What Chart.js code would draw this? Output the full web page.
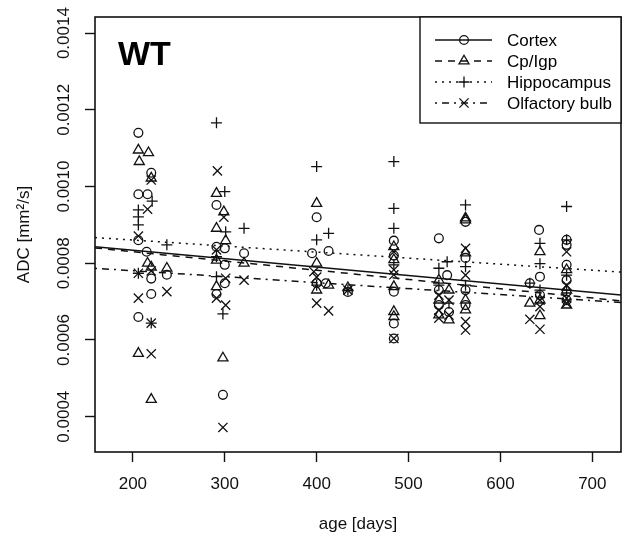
<!DOCTYPE html>
<html>
<head>
<meta charset="utf-8">
<script src="https://cdn.jsdelivr.net/npm/chart.js@4.4.1/dist/chart.umd.min.js"></script>
<style>
  html, body { margin: 0; padding: 0; background: #fff; }
  #wrap { width: 622px; height: 544px; }
</style>
</head>
<body>
<div id="wrap"><canvas id="c" width="622" height="544"></canvas></div>
<script>
// ADC vs age, WT mice, four brain regions + linear fits
const X_TICKS = [200, 300, 400, 500, 600, 700];
const Y_TICKS = [0.0004, 0.0006, 0.0008, 0.0010, 0.0012, 0.0014];
const X_RANGE = [158.8, 731.2];
const Y_RANGE = [0.000308, 0.001442];

const CORTEX_X = [206, 220, 206, 216, 206, 215, 220, 220, 206, 237,
  291, 291, 300, 300, 300, 291, 298, 321,
  395, 400, 413, 400, 410, 434,
  484, 484, 484, 484, 484,
  533, 542, 533, 533, 544,
  562, 562, 562, 562,
  642, 643, 632, 643,
  672, 672, 672, 672, 672];
const CORTEX_Y = [0.00114, 0.001036, 0.00098, 0.00098, 0.00086, 0.00083, 0.00076, 0.00072, 0.00066, 0.00077,
  0.000952, 0.000843, 0.000839, 0.000796, 0.000748, 0.00072, 0.000457, 0.000826,
  0.000826, 0.00092, 0.000832, 0.000748, 0.000748, 0.000725,
  0.000859, 0.00082, 0.000726, 0.000643, 0.000604,
  0.000865, 0.000769, 0.00073, 0.000691, 0.000673,
  0.000908, 0.000814, 0.00073, 0.000691,
  0.000887, 0.000765, 0.000748, 0.000717,
  0.000861, 0.000848, 0.000796, 0.000756, 0.000704];

const CPIGP_X = [206, 217, 207, 220, 216, 220, 237, 206, 220,
  291, 299, 291, 301, 291, 321, 298, 291,
  400, 400, 400, 413, 434,
  484, 484, 484, 484, 484,
  533, 533, 533, 544, 544,
  562, 562, 562, 562, 562,
  643, 632, 643, 643,
  672, 672, 672];
const CPIGP_Y = [0.001095, 0.001088, 0.001065, 0.001022, 0.0008, 0.00079, 0.000787, 0.000565, 0.000445,
  0.000982, 0.000934, 0.000891, 0.000859, 0.000739, 0.0008, 0.000553, 0.000808,
  0.000956, 0.0008, 0.00073, 0.000743, 0.000736,
  0.000843, 0.000809, 0.000739, 0.000674, 0.000661,
  0.000756, 0.000704, 0.000665, 0.00073, 0.000652,
  0.000918, 0.000913, 0.000827, 0.000704, 0.000678,
  0.00083, 0.000696, 0.000663, 0.000704,
  0.000783, 0.00073, 0.000691];

const HIPPO_X = [221, 206, 206, 206, 237, 206, 220,
  291, 300, 301, 291, 291, 298, 321,
  400, 413, 400, 400, 434,
  484, 484, 484, 484,
  533, 542, 544, 533,
  562, 562, 562,
  643, 643, 632, 643,
  672, 672, 672, 672];
const HIPPO_Y = [0.000962, 0.000939, 0.000921, 0.0009, 0.000848, 0.000774, 0.000644,
  0.001166, 0.000987, 0.000882, 0.000817, 0.000765, 0.000668, 0.000891,
  0.001052, 0.000878, 0.000861, 0.000743, 0.00073,
  0.001065, 0.000943, 0.000891, 0.000796,
  0.000787, 0.000804, 0.000696, 0.000743,
  0.000952, 0.000791, 0.000743,
  0.000852, 0.000799, 0.000748, 0.00073,
  0.000948, 0.000861, 0.000769, 0.00073];

const OLF_X = [220, 216, 206, 206, 220, 206, 237, 220, 220,
  292, 299, 291, 301, 291, 301, 298, 321,
  397, 400, 400, 413, 434,
  484, 484, 484, 484,
  533, 533, 533, 544, 544,
  562, 562, 562, 562,
  632, 643, 643, 643,
  672, 672, 672, 672];
const OLF_Y = [0.001017, 0.000941, 0.000871, 0.000774, 0.00078, 0.000709, 0.000726, 0.000644, 0.000564,
  0.001041, 0.00092, 0.000835, 0.000761, 0.000709, 0.000691, 0.000372, 0.000756,
  0.000778, 0.000764, 0.000696, 0.000676, 0.00073,
  0.00083, 0.000783, 0.00077, 0.000604,
  0.000717, 0.000678, 0.000657, 0.000704, 0.000665,
  0.000839, 0.000769, 0.000648, 0.000626,
  0.000654, 0.000628, 0.000704, 0.000687,
  0.00083, 0.000743, 0.000709, 0.000696];

// fitted lines, value at left / right edge of the plot
const FIT_X = [158.8, 731.2];
const CORTEX_FIT = [0.000843, 0.000717];
const CPIGP_FIT = [0.00084, 0.000702];
const HIPPO_FIT = [0.000867, 0.000777];
const OLF_FIT = [0.000787, 0.000698];

const FONT = '"Liberation Sans", Arial, Helvetica, sans-serif';
const INK = '#111';

const SERIES = [
  { name: 'Cortex', xs: CORTEX_X, ys: CORTEX_Y, fit: CORTEX_FIT, style: 'circle', r: 4.4, dash: [] },
  { name: 'Cp/Igp', xs: CPIGP_X, ys: CPIGP_Y, fit: CPIGP_FIT, style: 'triangle', r: 5.8, dash: [7, 6] },
  { name: 'Hippocampus', xs: HIPPO_X, ys: HIPPO_Y, fit: HIPPO_FIT, style: 'cross', r: 5.5, dash: [2, 5] },
  { name: 'Olfactory bulb', xs: OLF_X, ys: OLF_Y, fit: OLF_FIT, style: 'crossRot', r: 6.5, dash: [2, 5, 7, 5] }
];

const toPts = (xs, ys) => xs.map((x, i) => ({ x, y: ys[i] }));

const datasets = [];
SERIES.forEach(s => {
  datasets.push({
    label: s.name,
    data: toPts(s.xs, s.ys),
    showLine: false,
    pointStyle: s.style,
    pointRadius: s.r,
    pointBorderWidth: 1.3,
    pointBorderColor: INK,
    pointBackgroundColor: 'rgba(0,0,0,0)'
  });
  datasets.push({
    label: s.name + ' fit',
    data: toPts(FIT_X, s.fit),
    showLine: true,
    pointRadius: 0,
    borderColor: INK,
    borderWidth: 1.5,
    borderDash: s.dash,
    fill: false
  });
});

// box round the plot, the "WT" tag and the R-style legend
const decor = {
  id: 'decor',
  afterDraw(chart) {
    const { ctx, chartArea: a } = chart;
    ctx.save();
    ctx.strokeStyle = INK;
    ctx.lineWidth = 1.6;
    ctx.setLineDash([]);
    ctx.strokeRect(a.left, a.top, a.right - a.left, a.bottom - a.top);

    ctx.fillStyle = '#000';
    ctx.font = 'bold 34px ' + FONT;
    ctx.textBaseline = 'alphabetic';
    ctx.textAlign = 'left';
    ctx.fillText('WT', a.left + 23, a.top + 48);

    // legend
    const bx = 420, bw = a.right - bx, bh = 106;
    ctx.fillStyle = '#fff';
    ctx.fillRect(bx, a.top, bw, bh);
    ctx.lineWidth = 1.4;
    ctx.strokeRect(bx, a.top, bw, bh);
    ctx.font = '17px ' + FONT;
    ctx.textBaseline = 'middle';
    SERIES.forEach((s, i) => {
      const y = a.top + 23 + i * 21;
      ctx.strokeStyle = INK;
      ctx.lineWidth = 1.4;
      ctx.setLineDash(s.dash);
      ctx.beginPath();
      ctx.moveTo(435, y);
      ctx.lineTo(492, y);
      ctx.stroke();
      ctx.setLineDash([]);
      ctx.fillStyle = 'rgba(0,0,0,0)';
      ctx.lineWidth = 1.3;
      Chart.helpers.drawPoint(ctx, { pointStyle: s.style, radius: s.r, borderWidth: 1.3, rotation: 0 }, 464, y);
      ctx.fillStyle = '#000';
      ctx.fillText(s.name, 507, y + 1);
    });
    ctx.restore();
  }
};

new Chart(document.getElementById('c'), {
  type: 'scatter',
  data: { datasets },
  options: {
    responsive: false,
    animation: false,
    devicePixelRatio: 1,
    layout: { autoPadding: false, padding: { top: 17, right: 1, left: 0, bottom: 0 } },
    plugins: { legend: { display: false }, tooltip: { enabled: false } },
    scales: {
      x: {
        type: 'linear',
        min: X_RANGE[0], max: X_RANGE[1],
        afterBuildTicks: sc => { sc.ticks = X_TICKS.map(v => ({ value: v })); },
        afterFit: sc => { sc.height = 92; },
        grid: { drawOnChartArea: false, drawTicks: true, tickLength: 10, tickWidth: 1.4, tickColor: INK },
        border: { display: false },
        ticks: { color: INK, font: { family: FONT, size: 17 }, padding: 12, maxRotation: 0, autoSkip: false },
        title: { display: true, text: 'age [days]', color: INK, font: { family: FONT, size: 17 }, padding: { top: 0, bottom: 9 } }
      },
      y: {
        type: 'linear',
        min: Y_RANGE[0], max: Y_RANGE[1],
        afterBuildTicks: sc => { sc.ticks = Y_TICKS.map(v => ({ value: v })); },
        afterFit: sc => { sc.width = 95; },
        grid: { drawOnChartArea: false, drawTicks: true, tickLength: 10, tickWidth: 1.4, tickColor: INK },
        border: { display: false },
        ticks: {
          color: INK, font: { family: FONT, size: 17 }, minRotation: 90, maxRotation: 90,
          crossAlign: 'center', padding: -5, autoSkip: false,
          callback: v => v.toFixed(4)
        },
        title: { display: true, text: 'ADC [mm²/s]', color: INK, font: { family: FONT, size: 17 }, padding: { top: 14, bottom: 0 } }
      }
    }
  },
  plugins: [decor]
});
</script>
</body>
</html>
